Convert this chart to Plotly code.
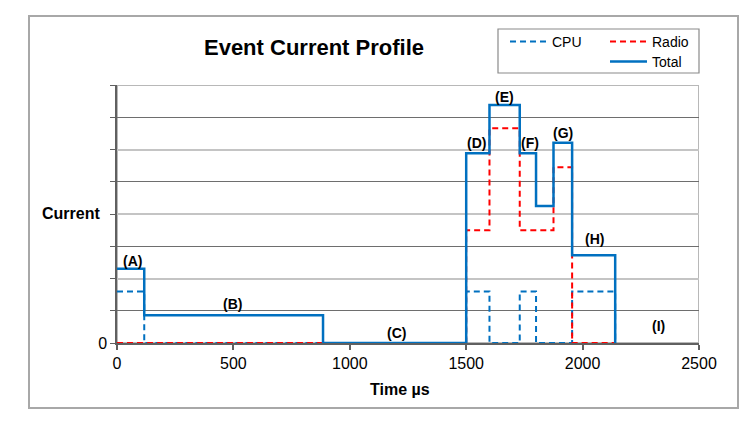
import plotly.graph_objects as go

# ---- data (time in µs, current in relative units) ----
cpu_t = [0, 117, 1500, 1600, 1730, 1800, 1955, 2140]
cpu_i = [1.6, 0, 1.6, 0, 1.6, 0, 1.6, 0]

radio_t = [0, 1500, 1600, 1730, 1875, 1955, 2140]
radio_i = [0, 3.5, 6.66, 3.5, 5.45, 0, 0]

total_t = [0, 117, 885, 1500, 1600, 1730, 1800, 1875, 1955, 2140]
total_i = [2.3, 0.86, 0, 5.88, 7.38, 5.88, 4.25, 6.21, 2.72, 0]

phase_labels = ["(A)", "(B)", "(C)", "(D)", "(E)", "(F)", "(G)", "(H)", "(I)"]
phase_x = [67, 495, 1200, 1543, 1664, 1776, 1914, 2050, 2325]
phase_y = [2.55, 1.22, 0.32, 6.21, 7.64, 6.21, 6.52, 3.21, 0.53]

x_ticks = [0, 500, 1000, 1500, 2000, 2500]
y_major = [0, 2, 4, 6, 8]
y_major_text = ["0", "", "", "", ""]

# ---- geometry helpers ----
W, H = 752, 424
ML, MR, MT, MB = 117, 53, 85, 81
PW, PH = W - ML - MR, H - MT - MB


def px_x(p):
    return (p - ML) / PW


def px_y(p):
    return (H - MB - p) / PH


FONT = "Liberation Sans, Arial, sans-serif"
BLUE = "#0070C0"
RED = "#FF0000"

fig = go.Figure()
fig.add_trace(go.Scatter(x=cpu_t, y=cpu_i, name="CPU", mode="lines",
                         line=dict(shape="hv", color=BLUE, width=2, dash="6px,4px"),
                         cliponaxis=False, legend="legend"))
fig.add_trace(go.Scatter(x=radio_t, y=radio_i, name="Radio", mode="lines",
                         line=dict(shape="hv", color=RED, width=2, dash="6px,4px"),
                         cliponaxis=False, legend="legend"))
fig.add_trace(go.Scatter(x=total_t, y=total_i, name="Total", mode="lines",
                         line=dict(shape="hv", color=BLUE, width=2.5),
                         cliponaxis=False, legend="legend2"))

for txt, lx, ly in zip(phase_labels, phase_x, phase_y):
    fig.add_annotation(x=lx, y=ly, text="<b>%s</b>" % txt, showarrow=False,
                       xref="x", yref="y", xanchor="center", yanchor="middle",
                       font=dict(family=FONT, size=14, color="#000"))

# axis titles
fig.add_annotation(x=px_x(71), y=px_y(213), xref="paper", yref="paper", text="<b>Current</b>",
                   showarrow=False, xanchor="center", yanchor="middle",
                   font=dict(family=FONT, size=16, color="#000"))
fig.add_annotation(x=px_x(400), y=px_y(390), xref="paper", yref="paper", text="<b>Time µs</b>",
                   showarrow=False, xanchor="center", yanchor="middle",
                   font=dict(family=FONT, size=16, color="#000"))

# borders
fig.add_shape(type="rect", xref="paper", yref="paper",
              x0=px_x(29), x1=px_x(738), y0=px_y(408), y1=px_y(16),
              line=dict(color="#a8a8a8", width=2), layer="below")
fig.add_shape(type="rect", xref="paper", yref="paper",
              x0=px_x(498), x1=px_x(699), y0=px_y(73), y1=px_y(29),
              line=dict(color="#8a8a8a", width=1.2), layer="below")
fig.add_shape(type="rect", xref="x", yref="y", x0=0, x1=2500, y0=0, y1=8,
              line=dict(color="#b8b8b8", width=2), layer="below")

fig.update_layout(
    width=W, height=H,
    margin=dict(l=ML, r=MR, t=MT, b=MB),
    paper_bgcolor="white", plot_bgcolor="white",
    font=dict(family=FONT, color="#000"),
    title=dict(text="<b>Event Current Profile</b>", x=314 / W, y=1 - 47 / H,
               xanchor="center", yanchor="middle", xref="container", yref="container",
               font=dict(family=FONT, size=22, color="#000")),
    showlegend=True,
    legend=dict(orientation="h", x=px_x(505), y=px_y(26), xanchor="left", yanchor="top",
                bgcolor="rgba(0,0,0,0)", borderwidth=0, entrywidth=48, itemwidth=37,
                font=dict(family=FONT, size=14, color="#000")),
    legend2=dict(orientation="h", x=px_x(605), y=px_y(46), xanchor="left", yanchor="top",
                 bgcolor="rgba(0,0,0,0)", borderwidth=0, itemwidth=37,
                 font=dict(family=FONT, size=14, color="#000")),
    xaxis=dict(range=[0, 2500], tickvals=x_ticks, showgrid=False, zeroline=False,
               showline=True, linecolor="#606060", linewidth=1.5,
               ticks="outside", ticklen=5, tickcolor="#606060", tickwidth=1.5,
               tickfont=dict(family=FONT, size=16, color="#000"), layer="below traces"),
    yaxis=dict(range=[0, 8], tickvals=y_major, ticktext=y_major_text,
               showgrid=True, gridcolor="#c4c4c4", gridwidth=2, zeroline=False,
               showline=True, linecolor="#606060", linewidth=1.5,
               ticks="outside", ticklen=5, tickcolor="#606060", tickwidth=1.2,
               tickfont=dict(family=FONT, size=16, color="#000"), layer="below traces",
               minor=dict(tickmode="linear", tick0=0, dtick=1, showgrid=True,
                          gridcolor="#6e6e6e", gridwidth=1, ticks="outside",
                          ticklen=5, tickcolor="#606060")),
)

fig.write_html("out.html")
